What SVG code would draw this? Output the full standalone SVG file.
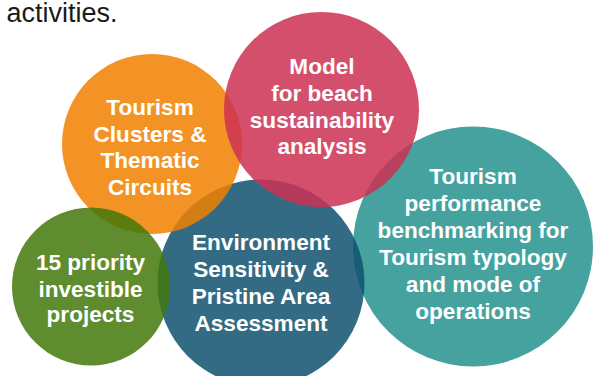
<svg xmlns="http://www.w3.org/2000/svg" width="596" height="376" viewBox="0 0 596 376">
  <style>
    .bub { fill-opacity: 0.85; stroke: none; }
    .lbl { font-family: "Liberation Sans", Arial, Helvetica, sans-serif; font-weight: bold; font-size: 22.6px; fill: #ffffff; text-anchor: middle; }
    .head { font-family: "Liberation Sans", Arial, Helvetica, sans-serif; font-size: 27px; fill: #1a1a1a; }
  </style>
  <rect width="596" height="376" fill="#ffffff"/>
  <text class="head" x="6.5" y="21.5">activities.</text>

  <g id="connectors"/>

  <g id="benchmarking">
    <circle class="bub" cx="473" cy="246.5" r="120" fill="#24928D"/>
    <text class="lbl" x="473" y="184">Tourism</text>
    <text class="lbl" x="473" y="211">performance</text>
    <text class="lbl" x="473" y="238">benchmarking for</text>
    <text class="lbl" x="473" y="265">Tourism typology</text>
    <text class="lbl" x="473" y="292">and mode of</text>
    <text class="lbl" x="473" y="319">operations</text>
  </g>

  <g id="environment">
    <circle class="bub" cx="261" cy="283" r="103.5" fill="#0F516F"/>
    <text class="lbl" x="261" y="250">Environment</text>
    <text class="lbl" x="261" y="277">Sensitivity &amp;</text>
    <text class="lbl" x="261" y="304">Pristine Area</text>
    <text class="lbl" x="261" y="330.5">Assessment</text>
  </g>

  <g id="clusters">
    <circle class="bub" cx="152" cy="144" r="90" fill="#F18000"/>
    <text class="lbl" x="150" y="115">Tourism</text>
    <text class="lbl" x="150" y="141.5">Clusters &amp;</text>
    <text class="lbl" x="150" y="168">Thematic</text>
    <text class="lbl" x="150" y="194.5">Circuits</text>
  </g>

  <g id="projects">
    <circle class="bub" cx="91" cy="286.5" r="79" fill="#43780B"/>
    <text class="lbl" x="90.5" y="270">15 priority</text>
    <text class="lbl" x="90.5" y="296.5">investible</text>
    <text class="lbl" x="90.5" y="322">projects</text>
  </g>

  <g id="beach-model">
    <circle class="bub" cx="321.5" cy="109.5" r="97.5" fill="#CC3052"/>
    <text class="lbl" x="322" y="74">Model</text>
    <text class="lbl" x="322" y="101">for beach</text>
    <text class="lbl" x="322" y="128">sustainability</text>
    <text class="lbl" x="322" y="154">analysis</text>
  </g>
</svg>
